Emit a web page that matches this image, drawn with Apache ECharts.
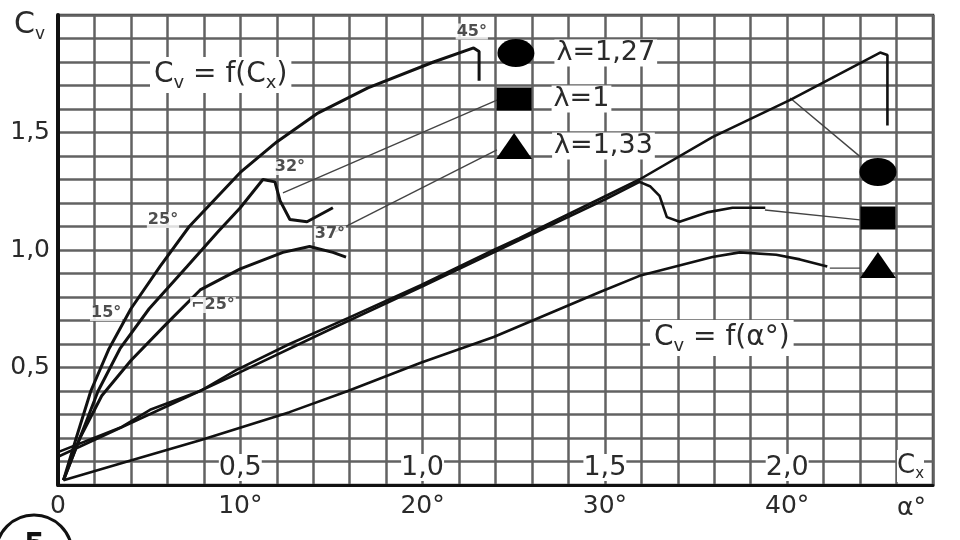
<!DOCTYPE html>
<html><head><meta charset="utf-8">
<script src="https://cdn.jsdelivr.net/npm/echarts@6/dist/echarts.min.js"></script>
<style>html,body{margin:0;padding:0;background:#fff}#c{width:960px;height:540px}</style>
</head><body><div id="c"></div><script>
// ---- tick labels ----
const cxTickValues = [0.5, 1.0, 1.5, 2.0];
const cxTickLabels = ['0,5', '1,0', '1,5', '2,0'];
const alphaTickValues = [0, 10, 20, 30, 40];
const alphaTickLabels = ['0', '10°', '20°', '30°', '40°'];
const cyTickValues = [0.5, 1.0, 1.5];
const cyTickLabels = ['0,5', '1,0', '1,5'];

// ---- polars Cy = f(Cx) : [Cx, Cy] ----
const polarCircle = [[0.015,0.02],[0.05,0.20],[0.09,0.40],[0.14,0.58],[0.20,0.75],[0.28,0.93],[0.36,1.10],[0.50,1.33],[0.60,1.46],[0.71,1.58],[0.85,1.69],[1.03,1.80],[1.14,1.86],[1.155,1.845],[1.155,1.72]];
const polarSquare = [[0.015,0.02],[0.06,0.20],[0.11,0.40],[0.17,0.58],[0.25,0.75],[0.354,0.93],[0.44,1.08],[0.50,1.18],[0.562,1.30],[0.595,1.29],[0.609,1.21],[0.636,1.13],[0.683,1.12],[0.754,1.18]];
const polarTriangle = [[0.015,0.02],[0.06,0.20],[0.12,0.38],[0.20,0.53],[0.30,0.69],[0.39,0.83],[0.50,0.92],[0.617,0.99],[0.69,1.015],[0.754,0.99],[0.79,0.97]];

// ---- Cy = f(alpha) : [alpha deg, Cy] ----
const alphaCircle = [[0,0.14],[3.5,0.247],[5.05,0.32],[7.8,0.40],[9.8,0.49],[12.7,0.60],[15.9,0.71],[19.9,0.85],[23.9,1.00],[25.3,1.05],[31.9,1.30],[35.9,1.48],[40.2,1.64],[45.1,1.84],[45.5,1.83],[45.5,1.53]];
const alphaSquare = [[0,0.12],[5,0.30],[10,0.48],[15,0.665],[20,0.845],[25,1.03],[30,1.215],[31.9,1.29],[32.5,1.27],[33.0,1.23],[33.4,1.14],[34.1,1.12],[35.6,1.16],[37.0,1.18],[38.8,1.18]];
const alphaTriangle = [[0.3,0.02],[3.8,0.10],[7.8,0.19],[12.7,0.31],[15.9,0.40],[19.9,0.52],[23.9,0.63],[29.7,0.82],[31.9,0.89],[35.9,0.97],[37.4,0.99],[39.4,0.98],[40.7,0.96],[42.2,0.93]];

// ---- angle notes on polars: [Cx, Cy, text] ----
const angleNotes = [[1.135,1.93,'45°'],[0.636,1.353,'32°'],[0.288,1.128,'25°'],[0.132,0.732,'15°'],[0.425,0.766,'⌐25°'],[0.746,1.068,'37°']];

// ---- leader lines [Cx, Cy] pairs ----
const leaders = [
  [[0.617,1.243],[1.204,1.638]],
  [[0.76,1.077],[1.204,1.426]],
  [[2.008,1.647],[2.205,1.391]],
  [[1.939,1.17],[2.20,1.128]],
  [[2.117,0.923],[2.20,0.923]]
];

// ---- marker keys ----
const markerSymbols = ['circle','rect','triangle'];
const markerSizes = [[37,28],[35,23],[36,26]];
const lambdaLabels = ['λ=1,27', 'λ=1', 'λ=1,33'];
const markersLeft = [[1.256,1.838],[1.251,1.643],[1.251,1.443]];
const markersRight = [[2.249,1.332],[2.249,1.136],[2.249,0.936]];

function pick(values, labels, v) {
  for (let i = 0; i < values.length; i++) if (Math.abs(values[i] - v) < 1e-6) return labels[i];
  return '';
}
const FONT = 'DejaVu Sans';
const INK = '#111';
const TXT = '#2a2a2a';

const series = [];
[polarCircle, polarSquare, polarTriangle].forEach(d => series.push({
  type: 'line', xAxisIndex: 0, yAxisIndex: 0, data: d, showSymbol: false, symbol: 'none',
  lineStyle: { color: INK, width: 3 }, z: 5, silent: true
}));
[alphaCircle, alphaSquare, alphaTriangle].forEach(d => series.push({
  type: 'line', xAxisIndex: 1, yAxisIndex: 0, data: d, showSymbol: false, symbol: 'none',
  lineStyle: { color: INK, width: 2.6 }, z: 5, silent: true
}));
leaders.forEach(d => series.push({
  type: 'line', xAxisIndex: 0, yAxisIndex: 0, data: d, showSymbol: false, symbol: 'none',
  lineStyle: { color: '#444', width: 1.4 }, z: 4, silent: true
}));
series.push({
  type: 'scatter', xAxisIndex: 0, yAxisIndex: 0, silent: true, z: 8,
  data: markersLeft.map((p, i) => ({ value: [p[0], p[1], lambdaLabels[i]], symbol: markerSymbols[i], symbolSize: markerSizes[i] })),
  itemStyle: { color: '#000', opacity: 1 },
  label: { show: true, position: 'right', distance: 20, formatter: p => p.value[2],
    fontFamily: FONT, fontSize: 27, color: TXT, backgroundColor: '#fff', padding: [0, 2] }
});
series.push({
  type: 'scatter', xAxisIndex: 0, yAxisIndex: 0, silent: true, z: 8,
  data: markersRight.map((p, i) => ({ value: p, symbol: markerSymbols[i], symbolSize: markerSizes[i] })),
  itemStyle: { color: '#000', opacity: 1 }
});
series.push({
  type: 'scatter', xAxisIndex: 0, yAxisIndex: 0, silent: true, z: 9,
  data: angleNotes, symbolSize: 1, itemStyle: { color: 'rgba(0,0,0,0)' },
  label: { show: true, position: 'inside', formatter: p => p.value[2],
    fontFamily: FONT, fontSize: 16, fontWeight: 'bold', color: '#222', backgroundColor: '#fff', padding: [0, 1] }
});

const subRich = (big, small) => ({
  c: { fontSize: big, fontFamily: FONT, fill: TXT, lineHeight: big + 6 },
  s: { fontSize: small, fontFamily: FONT, fill: TXT, verticalAlign: 'bottom' }
});

const option = {
  backgroundColor: '#fff',
  animation: false,
  grid: { left: 58, right: 27, top: 15, bottom: 55, show: true, borderColor: '#333', borderWidth: 2.5, outerBoundsMode: 'none' },
  xAxis: [
    { type: 'value', min: 0, max: 2.4, interval: 0.1, position: 'bottom',
      axisLine: { show: true, onZero: false, lineStyle: { color: INK, width: 3 } },
      axisTick: { show: false },
      splitLine: { show: true, lineStyle: { color: '#626262', width: 2.5 } },
      axisLabel: { inside: true, margin: 4, fontFamily: FONT, fontSize: 27, color: TXT,
        backgroundColor: '#fff', formatter: v => pick(cxTickValues, cxTickLabels, v) } },
    { type: 'value', min: 0, max: 48, interval: 2, position: 'bottom',
      axisLine: { show: false }, axisTick: { show: false }, splitLine: { show: false },
      axisLabel: { margin: 9, fontFamily: FONT, fontSize: 25, color: TXT,
        formatter: v => pick(alphaTickValues, alphaTickLabels, v) } }
  ],
  yAxis: [
    { type: 'value', min: 0, max: 2.0, interval: 0.1,
      axisLine: { show: true, onZero: false, lineStyle: { color: INK, width: 4 } },
      axisTick: { show: false },
      splitLine: { show: true, lineStyle: { color: '#626262', width: 2.5 } },
      axisLabel: { margin: 8, fontFamily: FONT, fontSize: 25, color: TXT,
        formatter: v => pick(cyTickValues, cyTickLabels, v) } }
  ],
  graphic: [
    { type: 'text', left: 14, top: 10, z: 20, style: { text: '{c|C}{s|v}', rich: subRich(30, 17) } },
    { type: 'text', left: 897, top: 450, z: 20, style: { text: '{c|C}{s|x}', rich: subRich(26, 15), backgroundColor: '#fff' } },
    { type: 'text', left: 897, top: 496, z: 20, style: { text: 'α°', fontSize: 25, fontFamily: FONT, fill: TXT } },
    { type: 'text', left: 150, top: 57, z: 20, style: {
      text: '{c|C}{s|v}{c| = f(C}{s|x}{c|)}', backgroundColor: '#fff', padding: [1, 4], rich: subRich(28, 18) } },
    { type: 'text', left: 650, top: 320, z: 20, style: {
      text: '{c|C}{s|v}{c| = f(α°)}', backgroundColor: '#fff', padding: [1, 4], rich: subRich(28, 18) } },
    { type: 'circle', z: 20, shape: { cx: 34, cy: 553, r: 38 }, style: { fill: 'none', stroke: INK, lineWidth: 3 } },
    { type: 'text', left: 24, top: 531, z: 20, style: { text: '5', fontSize: 30, fontWeight: 'bold', fontFamily: FONT, fill: INK } }
  ],
  series: series
};
const chart = echarts.init(document.getElementById('c'), null, { renderer: 'canvas' });
chart.setOption(option);
</script></body></html>
